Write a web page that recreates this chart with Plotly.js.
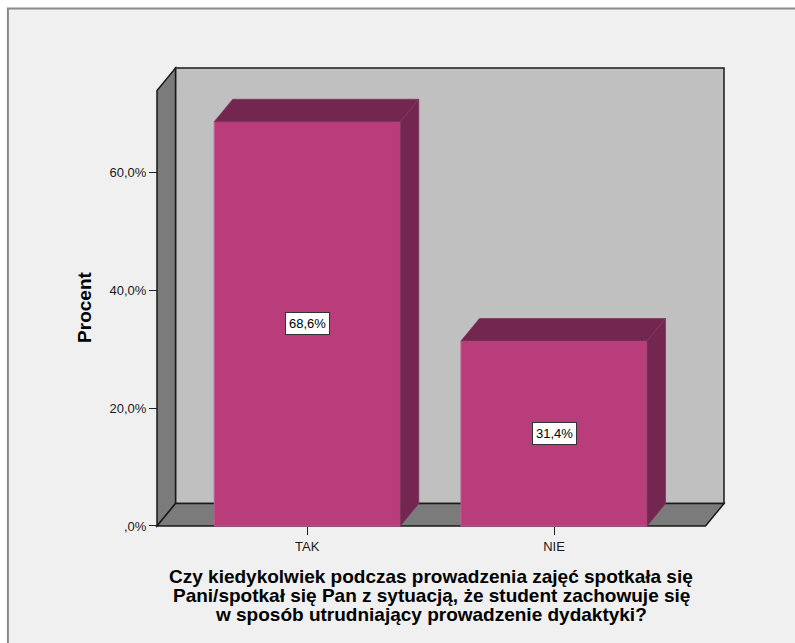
<!DOCTYPE html>
<html>
<head>
<meta charset="utf-8">
<script src="https://cdn.plot.ly/plotly-3.0.1.min.js"></script>
<style>
  html, body { margin: 0; padding: 0; background: #ffffff; }
  #chart { width: 795px; height: 643px; }
</style>
</head>
<body>
<div id="chart"></div>
<script>
// Answers and their share of respondents
const categories = ['TAK', 'NIE'];
const percents = [68.6, 31.4];

// Value axis ticks
const yTickVals = [0, 20, 40, 60];
const yTickText = [',0%', '20,0%', '40,0%', '60,0%'];

// Axis titles
const yTitle = 'Procent';
const xTitleLines = [
  'Czy kiedykolwiek podczas prowadzenia zajęć spotkała się',
  'Pani/spotkał się Pan z sytuacją, że student zachowuje się',
  'w sposób utrudniający prowadzenie dydaktyki?'
];

// ---- page / projection geometry ----
const W = 795, H = 643;
const PX_PER_X = 246.7;     // pixels per category step
const PX_PER_Y = 5.885;     // pixels per percent
const X0_PX = 307.3;        // pixel column of the first category
const Y0_PX = 525.7;        // pixel row of 0%
const FRONT_LEFT = -0.609;  // front edge of left wall (x units)
const FRONT_RIGHT = 1.614;  // front right end of floor (x units)
const DEPTH_X = 0.075;      // oblique depth offset, x units
const DEPTH_Y = 3.8;        // oblique depth offset, percent units
const WALL_TOP = 73.9;      // front height of the side wall
const BAR_W = 0.754;
const PAD = 7;              // px of breathing room so edge lines are not clipped

const xRange = [FRONT_LEFT - PAD / PX_PER_X, FRONT_RIGHT + DEPTH_X + PAD / PX_PER_X];
const yRange = [-PAD / PX_PER_Y, WALL_TOP + DEPTH_Y + PAD / PX_PER_Y];

const mL = X0_PX + xRange[0] * PX_PER_X;
const mR = W - (X0_PX + xRange[1] * PX_PER_X);
const mT = Y0_PX - yRange[1] * PX_PER_Y;
const mB = H - (Y0_PX - yRange[0] * PX_PER_Y);
const plotW = W - mL - mR;
const plotH = H - mT - mB;
const paperX = px => (px - mL) / plotW;
const paperY = py => (H - mB - py) / plotH;

const FONT = 'Arial, "Liberation Sans", sans-serif';
const BAR_FACE = '#b93d7b';
const BAR_DARK = '#73264f';
const WALL_BACK = '#c0c0c0';
const WALL_SIDE = '#7b7b7b';
const EDGE = '#1a1a1a';

// Front faces of the bars
const xIdx = categories.map((_, i) => i);
const barTrace = {
  type: 'bar',
  x: xIdx,
  y: percents,
  width: BAR_W,
  marker: { color: BAR_FACE, line: { color: '#c45a90', width: 1 } },
  hoverinfo: 'skip',
  showlegend: false
};

// Top and right-side faces of the bars (oblique projection)
const depthX = [], depthY = [];
percents.forEach((v, i) => {
  const l = i - BAR_W / 2, r = i + BAR_W / 2;
  depthX.push(l, l + DEPTH_X, r + DEPTH_X, r, l, null);
  depthY.push(v, v + DEPTH_Y, v + DEPTH_Y, v, v, null);
  depthX.push(r, r + DEPTH_X, r + DEPTH_X, r, r, null);
  depthY.push(0, DEPTH_Y, v + DEPTH_Y, v, 0, null);
});
const depthTrace = {
  type: 'scatter',
  mode: 'lines',
  x: depthX,
  y: depthY,
  fill: 'toself',
  fillcolor: BAR_DARK,
  line: { color: '#7d3a5e', width: 0.8 },
  hoverinfo: 'skip',
  showlegend: false
};

// Chart box: back wall, left wall, floor
const bx0 = FRONT_LEFT, bx1 = FRONT_RIGHT;
const shapes = [
  { type: 'rect', xref: 'paper', yref: 'paper',
    x0: paperX(8), y0: paperY(9), x1: paperX(W + 6), y1: paperY(H + 6),
    fillcolor: '#f0f0f0', line: { color: '#8a8a8a', width: 2 }, layer: 'below' },
  { type: 'rect', xref: 'x', yref: 'y',
    x0: bx0 + DEPTH_X, y0: DEPTH_Y, x1: bx1 + DEPTH_X, y1: WALL_TOP + DEPTH_Y,
    fillcolor: WALL_BACK, line: { color: EDGE, width: 1.5 }, layer: 'below' },
  { type: 'path', xref: 'x', yref: 'y',
    path: `M ${bx0} 0 L ${bx0} ${WALL_TOP} L ${bx0 + DEPTH_X} ${WALL_TOP + DEPTH_Y} L ${bx0 + DEPTH_X} ${DEPTH_Y} Z`,
    fillcolor: WALL_SIDE, line: { color: EDGE, width: 1.5 }, layer: 'below' },
  { type: 'path', xref: 'x', yref: 'y',
    path: `M ${bx0} 0 L ${bx1} 0 L ${bx1 + DEPTH_X} ${DEPTH_Y} L ${bx0 + DEPTH_X} ${DEPTH_Y} Z`,
    fillcolor: WALL_SIDE, line: { color: EDGE, width: 1.5 }, layer: 'below' }
];

// Value labels in the middle of each bar
const annotations = percents.map((v, i) => ({
  x: i, y: v / 2, xref: 'x', yref: 'y',
  text: v.toFixed(1).replace('.', ',') + '%',
  showarrow: false,
  font: { family: FONT, size: 13, color: '#000' },
  bgcolor: '#ffffff', bordercolor: '#333333', borderwidth: 1, borderpad: 3
}));

// Y title
annotations.push({
  xref: 'paper', yref: 'paper', x: paperX(85), y: paperY(307),
  text: '<b>' + yTitle + '</b>', textangle: -90, showarrow: false,
  xanchor: 'center', yanchor: 'middle',
  font: { family: FONT, size: 19, color: '#000' }
});

// X title, one line per annotation
const titleCenterX = (FRONT_LEFT + FRONT_RIGHT) / 2;
xTitleLines.forEach((line, k) => {
  annotations.push({
    xref: 'x', yref: 'paper', x: titleCenterX, y: paperY(576 + 19 * k),
    text: '<b>' + line + '</b>', showarrow: false,
    xanchor: 'center', yanchor: 'middle',
    font: { family: FONT, size: 19, color: '#000' }
  });
});

const layout = {
  width: W, height: H,
  margin: { l: mL, r: mR, t: mT, b: mB, pad: 0 },
  paper_bgcolor: '#ffffff',
  plot_bgcolor: 'rgba(0,0,0,0)',
  showlegend: false,
  xaxis: {
    range: xRange, fixedrange: true,
    anchor: 'free', position: (0 - yRange[0]) / (yRange[1] - yRange[0]),
    tickvals: xIdx, ticktext: categories,
    ticks: 'outside', ticklen: 8, tickwidth: 1, tickcolor: '#222',
    showgrid: false, zeroline: false, showline: false,
    tickfont: { family: FONT, size: 13, color: '#1a1a1a' }
  },
  yaxis: {
    range: yRange, fixedrange: true,
    anchor: 'free', position: (FRONT_LEFT - xRange[0]) / (xRange[1] - xRange[0]),
    tickvals: yTickVals, ticktext: yTickText,
    ticks: 'outside', ticklen: 8, tickwidth: 1, tickcolor: '#222',
    showgrid: false, zeroline: false, showline: false,
    tickfont: { family: FONT, size: 13, color: '#1a1a1a' }
  },
  shapes: shapes,
  annotations: annotations
};

Plotly.newPlot('chart', [barTrace, depthTrace], layout, { staticPlot: true, displayModeBar: false });
</script>
</body>
</html>
